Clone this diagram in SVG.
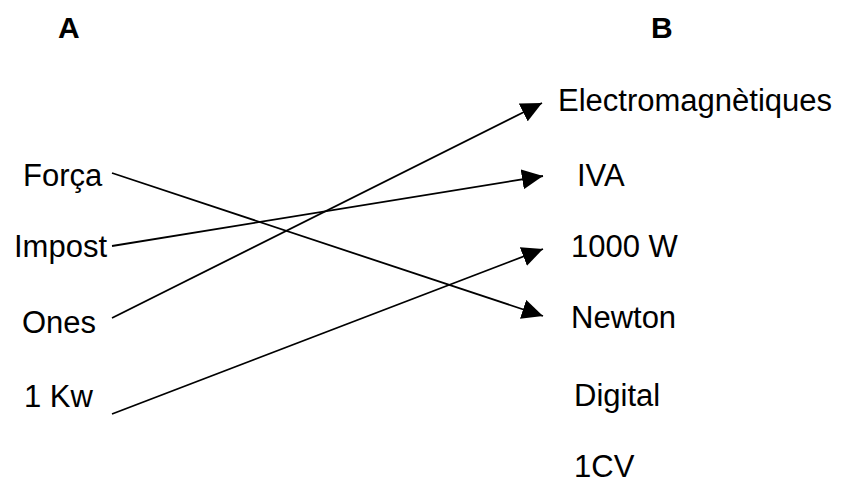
<svg xmlns="http://www.w3.org/2000/svg" width="841" height="483" viewBox="0 0 841 483">
<style>
text{font-family:"Liberation Sans",Arial,sans-serif;fill:#000}
.h{font-weight:bold;font-size:30px}
.t{font-size:31px}
.c{stroke:#000;stroke-width:1.8;fill:none}
</style>
<defs>
<marker id="ah" markerUnits="userSpaceOnUse" markerWidth="23" markerHeight="20" refX="21" refY="10" orient="auto" viewBox="0 0 23 20">
<path d="M0,0 L21,10 L0,20 z" fill="#000"/>
</marker>
</defs>
<rect width="841" height="483" fill="#fff"/>
<g id="headA"><text class="h" x="58" y="38">A</text></g>
<g id="headB"><text class="h" x="651" y="38">B</text></g>
<g id="forca"><text class="t" x="23" y="186">Força</text></g>
<g id="impost"><text class="t" x="14" y="257">Impost</text></g>
<g id="ones"><text class="t" x="22" y="333">Ones</text></g>
<g id="kw"><text class="t" x="24" y="407">1 Kw</text></g>
<g id="electro"><text class="t" x="558" y="111">Electromagnètiques</text></g>
<g id="iva"><text class="t" x="577" y="186">IVA</text></g>
<g id="w1000"><text class="t" x="571" y="257">1000 W</text></g>
<g id="newton"><text class="t" x="571" y="328">Newton</text></g>
<g id="digital"><text class="t" x="574" y="406">Digital</text></g>
<g id="cv"><text class="t" x="574" y="477">1CV</text></g>
<g id="connectors">
<line class="c" x1="112" y1="173" x2="543" y2="316" marker-end="url(#ah)"/>
<line class="c" x1="112" y1="246" x2="543" y2="176" marker-end="url(#ah)"/>
<line class="c" x1="112" y1="318" x2="542" y2="103" marker-end="url(#ah)"/>
<line class="c" x1="112" y1="414" x2="543" y2="249" marker-end="url(#ah)"/>
</g>
</svg>
